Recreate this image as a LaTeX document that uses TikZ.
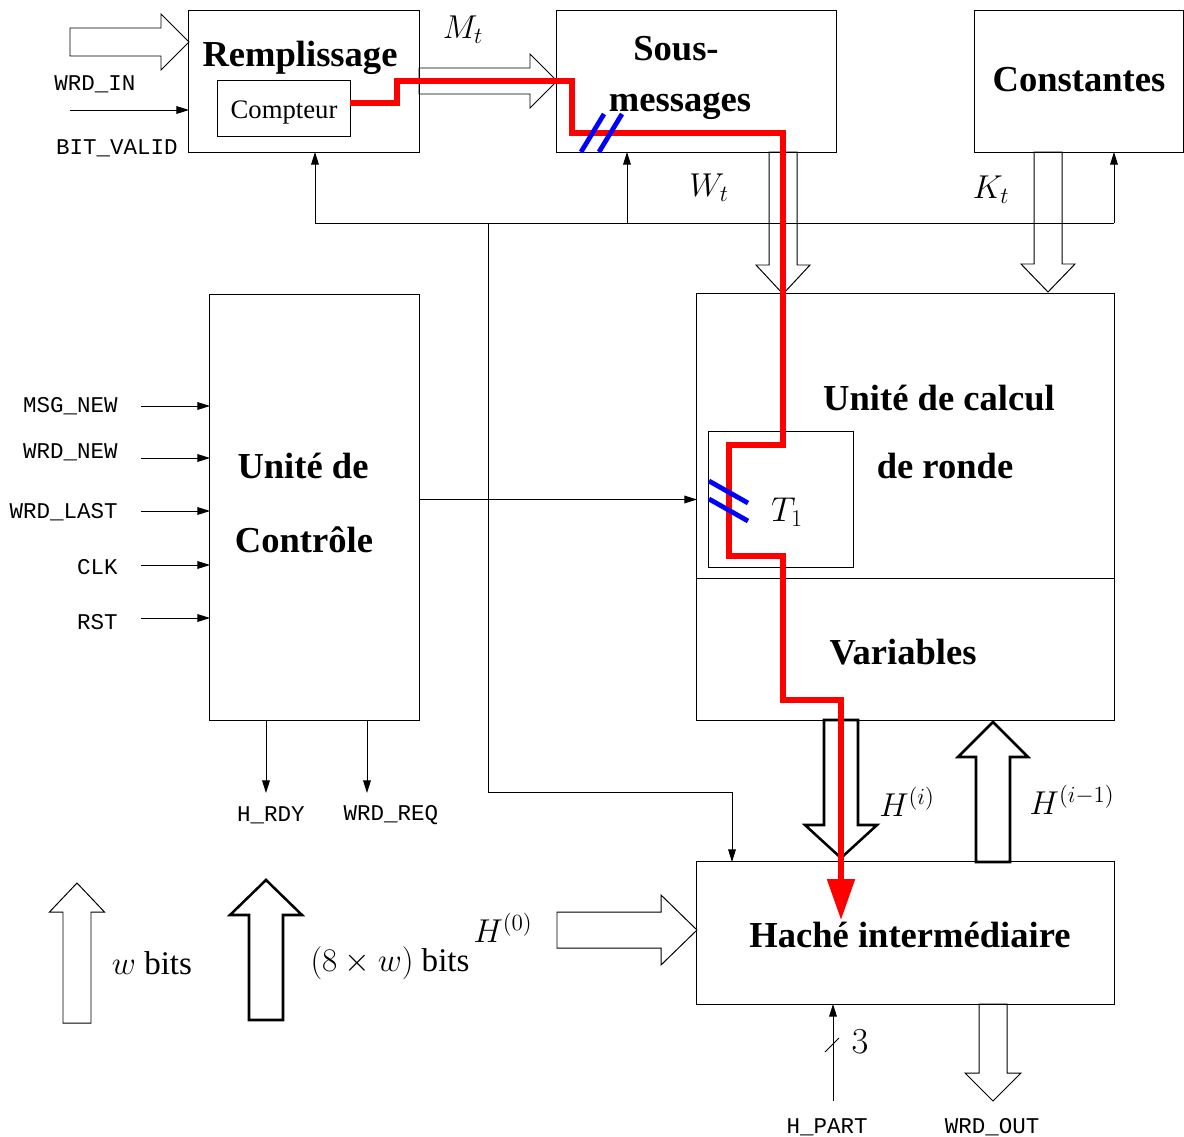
\RequirePackage{fix-cm}
\documentclass[tikz,border=0pt]{standalone}
\usepackage[no-math]{fontspec}
\setmainfont{Liberation Serif}
\setmonofont{Liberation Mono}
\usetikzlibrary{arrows.meta,calc}

\tikzset{
 box/.style={draw, line width=0.7pt, inner sep=0pt, outer sep=0pt, rectangle},
 btxt/.style={font=\fontsize{26}{30}\selectfont\bfseries, inner sep=0pt},
 ntxt/.style={font=\fontsize{19}{22}\selectfont, inner sep=0pt},
 ttl/.style={font=\fontsize{16}{18}\selectfont\ttfamily, inner sep=0pt},
 mth/.style={font=\fontsize{23.5}{27}\selectfont, inner sep=0pt},
 sig/.style={line width=0.7pt, -{Triangle[length=9pt,width=5.5pt]}},
 wire/.style={line width=0.7pt},
 hollow/.style={draw, line width=0.7pt, line join=miter},
 hollowthick/.style={draw, line width=1.8pt, fill=white, line join=miter},
 redpath/.style={red, line width=4pt},
 bluemark/.style={blue, line width=3.4pt},
}
% style, x, ytail, ybase, ytip, half shaft, half head
\newcommand\myvarrow[7]{\draw[#1] (#2-#6,#3) -- (#2-#6,#4) -- (#2-#7,#4) -- (#2,#5) -- (#2+#7,#4) -- (#2+#6,#4) -- (#2+#6,#3) -- cycle;}
% style, y, xtail, xbase, xtip, half shaft, half head
\newcommand\myharrow[7]{\draw[#1] (#3,#2-#6) -- (#4,#2-#6) -- (#4,#2-#7) -- (#5,#2) -- (#4,#2+#7) -- (#4,#2+#6) -- (#3,#2+#6) -- cycle;}

\begin{document}
\begin{tikzpicture}[x=0.025cm, y=-0.025cm]
\useasboundingbox (0,0) rectangle (1184,1137);

% boxes
\node[box, minimum width=5.75cm, minimum height=3.525cm] (rem) at (304,81.5) {};
\node[box, minimum width=3.3cm, minimum height=1.4cm] (cpt) at (284,108) {};
\node[box, minimum width=6.975cm, minimum height=3.525cm] (sous) at (696.5,81.5) {};
\node[box, minimum width=5.2cm, minimum height=3.525cm] (cst) at (1079,81.5) {};
\node[box, minimum width=5.225cm, minimum height=10.625cm] (ctrl) at (314.5,507.5) {};
\node[box, minimum width=10.425cm, minimum height=10.65cm] (calc) at (905.5,507) {};
\node[box, minimum width=3.6cm, minimum height=3.375cm] (t1) at (781,499.5) {};
\node[box, minimum width=10.425cm, minimum height=3.55cm] (hache) at (905.5,933) {};
\coordinate (div) at (0,578);
\draw[wire] (calc.west |- div) -- (calc.east |- div);

% box texts
\node[btxt] (remT) at (300,58) {Remplissage};
\node[ntxt] (cptT) at (284,112) {Compteur};
\node[btxt] (sousT1) at (676,49) {Sous-};
\node[btxt] (sousT2) at (680,106) {messages};
\node[btxt] (cstT) at (1079,80) {Constantes};
\node[btxt] (ctrlT1) at (303,466) {Unité de};
\node[btxt] (ctrlT2) at (304,540) {Contrôle};
\node[btxt] (calcT1) at (939,398) {Unité de calcul};
\node[btxt] (calcT2) at (945,466) {de ronde};
\node[btxt] (varT) at (903,652) {Variables};
\node[btxt] (hacheT) at (910,935) {Haché intermédiaire};

% hollow arrows
\myharrow{hollow}{42}{70}{161}{189}{14}{28}
\myharrow{hollow}{81}{419}{530}{557}{13}{27}
\myvarrow{hollow}{783}{152}{265}{294}{14}{27}
\myvarrow{hollow}{1048}{152}{264}{292}{14}{27}
\myvarrow{hollowthick}{841}{720}{825}{858}{17}{36}
\myvarrow{hollowthick}{993}{862}{757}{722}{17}{35}
\myvarrow{hollow}{993}{1004}{1073}{1101}{14}{28}
\myharrow{hollow}{930}{557}{661}{697}{18}{35}
\myvarrow{hollow}{77}{1023}{912}{883}{14}{27.5}
\myvarrow{hollowthick}{266}{1020}{915}{880}{17}{36}

% math labels
\node[mth] (mt) at (463,30) {$M_t$};
\node[mth] (wt) at (709,188) {$W_t$};
\node[mth] (kt) at (991,190) {$K_t$};
\node[font=\fontsize{24.5}{28}\selectfont, inner sep=0pt] (t1T) at (787,512) {$T_1$};
\node[mth] (hi) at (907,802) {$H^{(i)}$};
\node[mth] (him) at (1072,800) {$H^{(i-1)}$};
\node[mth] (h0) at (503,928) {$H^{(0)}$};
\node[font=\fontsize{26}{30}\selectfont, inner sep=0pt] (three) at (860,1042) {$3$};
\node[mth] (wbits) at (152,963) {$w$ bits};
\node[mth] (wwbits) at (390,963) {$(8\times w)$ bits};

% top left inputs
\node[ttl] (wrdin) at (95,84) {WRD\_IN};
\node[ttl] (bitv) at (117,148) {BIT\_VALID};
\coordinate (wi) at (70,110);
\draw[sig] (wi) -- (wi -| rem.west);

% feedback bus
\coordinate (busA) at (315,223);
\coordinate (busB) at (1114,223);
\coordinate (busS) at (627,223);
\coordinate (busD) at (488,223);
\coordinate (hacIn) at (732,792);
\draw[wire] (busA) -- (busB);
\draw[sig] (busA) -- (busA |- rem.south);
\draw[sig] (busS) -- (busS |- sous.south);
\draw[sig] (busB) -- (busB |- cst.south);
\draw[sig] (busD) |- (hacIn) -- (hacIn |- hache.north);

% control inputs
\foreach \yy/\lab/\ly/\nm in {406/MSG\_NEW/406/a, 458/WRD\_NEW/452/b, 511/WRD\_LAST/512/c, 565/CLK/567/d, 618/RST/622/e}{
  \coordinate (in\nm) at (141,\yy);
  \draw[sig] (in\nm) -- (in\nm -| ctrl.west);
  \node[ttl, anchor=east] (lab\nm) at (118,\ly) {\lab};
}
% control outputs
\coordinate (o1) at (266,793);
\coordinate (o2) at (367,793);
\draw[sig] (o1 |- ctrl.south) -- (o1);
\draw[sig] (o2 |- ctrl.south) -- (o2);
\node[ttl] (hrdy) at (271,815) {H\_RDY};
\node[ttl] (wrdreq) at (391,815) {WRD\_REQ};

% control to calc
\draw[sig] (ctrl.east |- t1.west) -- (calc.west |- t1.west);

% bottom signals
\coordinate (hp) at (833,1101);
\draw[sig] (hp) -- (hp |- hache.south);
\draw[wire] (825,1052) -- (839,1038);
\node[ttl] (hpart) at (827,1127) {H\_PART};
\node[ttl] (wrdout) at (992,1127) {WRD\_OUT};

% red critical path
\coordinate (r1) at (397,103);
\coordinate (r2) at (572,81);
\coordinate (r3) at (783,133);
\coordinate (r4) at (729,445);
\coordinate (r5) at (783,556);
\coordinate (r6) at (841,700);
\coordinate (r7) at (841,920);
\draw[redpath, line join=miter, -{Triangle[length=29pt,width=19pt]}]
  (cpt.east |- r1) -- (r1) |- (r2) |- (r3) |- (r4) |- (r5) |- (r6) -- (r7);

% blue marks
\draw[bluemark] (581,152) -- (604,114);
\draw[bluemark] (599,152) -- (622,114);
\draw[bluemark] (709,481) -- (748,503);
\draw[bluemark] (709,499) -- (748,521);
\end{tikzpicture}
\end{document}
